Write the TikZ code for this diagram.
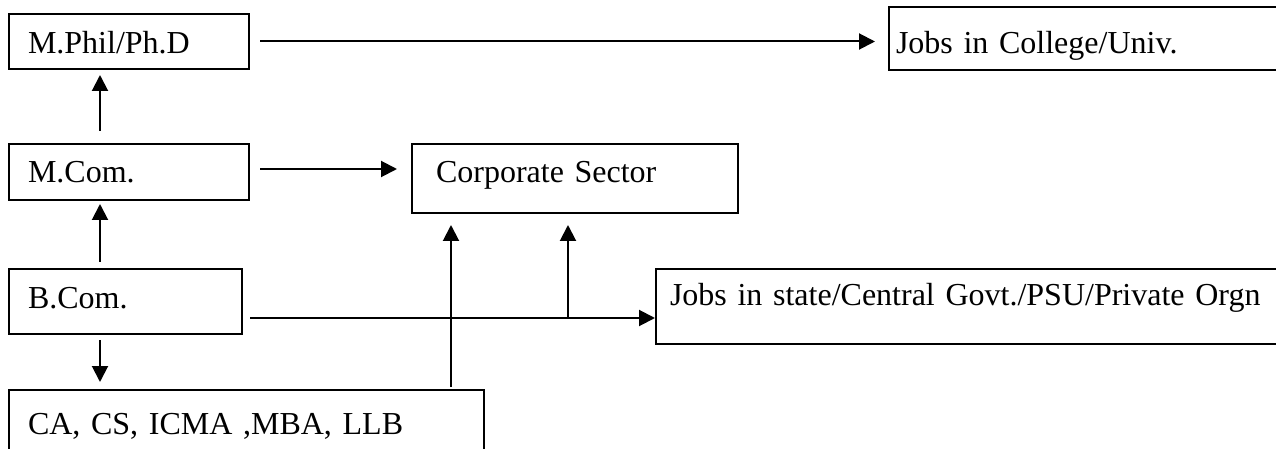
\documentclass[tikz,border=0pt]{standalone}
\usepackage{fontspec}
\setmainfont{Liberation Serif}
\usetikzlibrary{arrows.meta}

\begin{document}
\begin{tikzpicture}[x=0.5pt, y=-0.5pt,
	box/.style={draw, line width=1pt, anchor=north west, inner ysep=0pt, align=left,
		font=\fontsize{16pt}{19pt}\selectfont},
	flow/.style={line width=1pt, -{Triangle[length=8pt, width=8pt]}}]
	\useasboundingbox (0,0) rectangle (1276,449);
	\clip (0,0) rectangle (1276,449);

	\node[box, inner xsep=9.5pt, text width=101pt, text height=20pt, text depth=7.5pt] (mphil) at (8,13) {M.Phil/Ph.D};
	\node[box, inner xsep=9.5pt, text width=101pt, text height=19.5pt, text depth=8.5pt] (mcom) at (8,143) {M.Com.};
	\node[box, inner xsep=9.5pt, text width=97.5pt, text height=19.5pt, text depth=13pt] (bcom) at (8,268) {B.Com.};
	\node[box, inner xsep=9.5pt, text width=218.5pt, text height=22pt, text depth=18.5pt] (prof) at (8,389) {CA, CS, ICMA ,MBA, LLB};
	\node[box, inner xsep=12pt, text width=139pt, text height=19.5pt, text depth=15pt] (corp) at (411,143) {Corporate Sector};
	\node[box, inner xsep=3.5pt, text width=199pt, text height=23.5pt, text depth=8pt] (univ) at (888,6) {Jobs in College/Univ.};
	\node[box, inner xsep=7pt, text width=308.5pt, text height=18.5pt, text depth=19pt] (govt) at (655,268) {Jobs in state/Central Govt./PSU/Private Orgn};

	% horizontal links
	\draw[flow, shorten <=5pt, shorten >=6.5pt] (mphil.east) -- (mphil.east -| univ.west);
	\draw[flow, shorten <=5pt, shorten >=7pt] ([yshift=1.5pt]mcom.east) -- ([yshift=1.5pt]mcom.east -| corp.west);

	% upwards along the left
	\draw[flow] ([xshift=46pt, yshift=6pt]mcom.north west) -- ([xshift=46pt, yshift=-2.5pt]mphil.south west);
	\draw[flow] ([xshift=46pt, yshift=3pt]bcom.north west) -- ([xshift=46pt, yshift=-1.5pt]mcom.south west);
	\draw[flow] ([xshift=46pt, yshift=-2.5pt]bcom.south west) -- ([xshift=46pt, yshift=3.5pt]prof.north west);

	% B.Com. to jobs, with a branch to the corporate sector
	\coordinate (bout) at ([xshift=3.5pt, yshift=-25pt]bcom.north east);
	\coordinate (split) at (568,318);
	\draw[flow] (bout) -- (bout -| govt.west);
	\draw[flow, shorten >=5.5pt] (split) -- (corp.south -| split);

	\coordinate (profup) at ([xshift=221.5pt, yshift=1pt]prof.north west);
	\draw[flow, shorten >=5.5pt] (profup) -- (corp.south -| profup);
\end{tikzpicture}
\end{document}
